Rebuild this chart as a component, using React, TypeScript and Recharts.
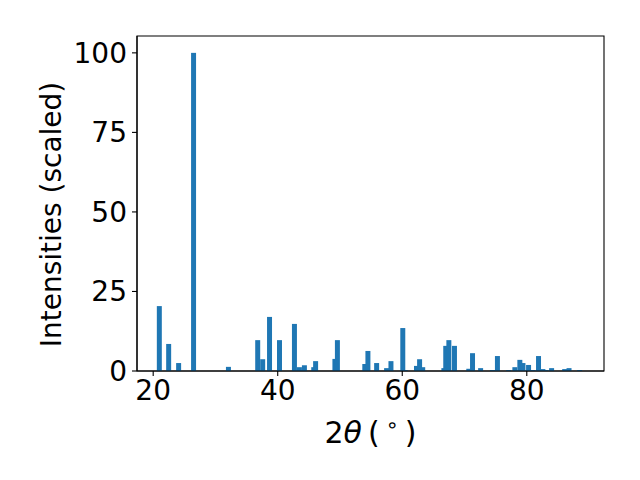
import React from "react";
import { BarChart, Bar, XAxis, YAxis, Label, ReferenceArea } from "recharts";

// peak positions (2theta, degrees) and scaled intensities
const twoTheta = [
  21.0, 22.5, 24.1, 26.5, 32.1, 36.8, 37.6, 38.7, 40.3, 42.7, 43.5, 44.3,
  45.8, 46.1, 49.2, 49.6, 54.0, 54.5, 55.9, 57.5, 58.2, 60.1, 60.5, 62.3,
  62.8, 63.3, 66.7, 67.0, 67.5, 68.4, 70.7, 71.3, 72.6, 74.5, 75.3, 77.1,
  78.1, 78.9, 79.4, 80.3, 81.0, 81.9, 82.6, 83.1, 84.0, 86.1, 86.8, 88.5,
];
const intensity = [
  20.4, 8.5, 2.5, 100, 1.3, 9.7, 3.7, 17.0, 9.7, 14.8, 1.2, 1.8,
  1.2, 3.1, 3.8, 9.7, 2.2, 6.3, 2.5, 0.9, 3.1, 13.5, 0.3, 1.6,
  3.7, 1.2, 0.9, 7.9, 9.7, 7.9, 0.7, 5.6, 0.9, 0.3, 4.7, 0.3,
  1.2, 3.5, 2.5, 1.9, 0.3, 4.7, 0.6, 0.3, 0.9, 0.6, 0.9, 0.3,
];
const xTicks = [20, 40, 60, 80];
const yTicks = [0, 25, 50, 75, 100];

const data = twoTheta.map((t, i) => ({ t, v: intensity[i] }));

const W = 640;
const H = 480;
const margin = { top: 36, right: 36, bottom: 0, left: 37 };
const yAxisW = 100;
const xAxisH = 109;
const xDomain: [number, number] = [17.4, 92.4];
const yDomain: [number, number] = [0, 105.3];
const plotW = W - margin.left - margin.right - yAxisW;
const plotH = H - margin.top - margin.bottom - xAxisH;
const barW = (plotW / (xDomain[1] - xDomain[0])) * 0.8; // matplotlib default width 0.8
const font = "'DejaVu Sans', sans-serif";
const blue = "#1f77b4";

function BarShape(props: any) {
  const { x, y, width, height } = props;
  if (height == null || height <= 0) return null;
  const cx = x + width / 2;
  return <rect x={cx - barW / 2} y={y} width={barW} height={height} fill={blue} />;
}

function XLabel(props: any) {
  const vb = props.viewBox || {};
  const cx = vb.x + vb.width / 2;
  return (
    <text x={cx} y={vb.y + 72} textAnchor="middle" fontFamily={font} fontSize={30} fill="#000">
      2<tspan fontStyle="italic">θ</tspan>
      <tspan>{"\u2009(\u2009"}</tspan>
      <tspan dy={-11} fontSize={21}>∘</tspan>
      <tspan dy={11}>{"\u2009)"}</tspan>
    </text>
  );
}

function YLabel() {
  const cy = margin.top + plotH / 2 + 11;
  const bx = 61;
  return (
    <text x={bx} y={cy} transform={`rotate(-90, ${bx}, ${cy})`} textAnchor="middle" fontFamily={font} fontSize={28} fill="#000">
      Intensities (scaled)
    </text>
  );
}

export default function App() {
  const tick = { fontSize: 28, fill: "#000", fontFamily: font };
  return (
    <div style={{ position: "absolute", left: 0, top: 0, width: W, height: H, background: "#fff" }}>
      <BarChart width={W} height={H} data={data} margin={margin}>
        <XAxis
          dataKey="t"
          type="number"
          domain={xDomain}
          ticks={xTicks}
          allowDataOverflow
          height={xAxisH}
          tick={tick}
          tickSize={5}
          tickMargin={4}
          stroke="#000"
          axisLine={{ stroke: "#000", strokeWidth: 1.1 }}
          tickLine={{ stroke: "#000", strokeWidth: 1.1 }}
        >
          <Label content={<XLabel />} />
        </XAxis>
        <YAxis
          type="number"
          domain={yDomain}
          ticks={yTicks}
          allowDataOverflow
          width={yAxisW}
          tick={tick}
          tickSize={5}
          tickMargin={5}
          axisLine={{ stroke: "#000", strokeWidth: 1.1 }}
          tickLine={{ stroke: "#000", strokeWidth: 1.1 }}
        >
          <Label content={<YLabel />} />
        </YAxis>
        <Bar dataKey="v" barSize={5} shape={<BarShape />} isAnimationActive={false} />
        <ReferenceArea
          x1={xDomain[0]}
          x2={xDomain[1]}
          y1={yDomain[0]}
          y2={yDomain[1]}
          fill="none"
          fillOpacity={0}
          stroke="#000"
          strokeWidth={1.1}
          strokeOpacity={1}
          ifOverflow="visible"
        />
      </BarChart>
    </div>
  );
}
